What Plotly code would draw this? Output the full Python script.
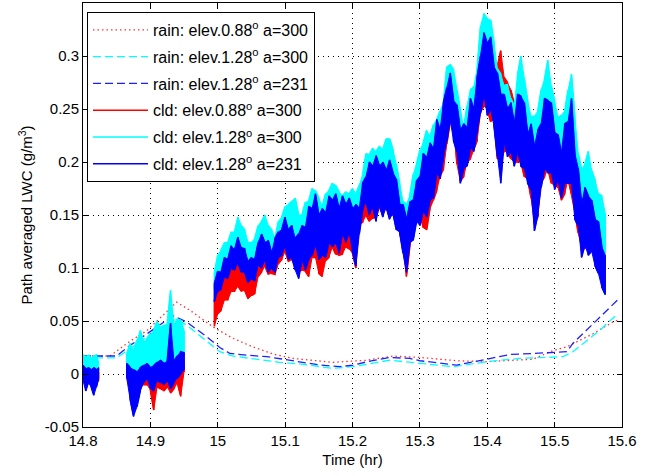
import plotly.graph_objects as go

FONT = "Liberation Sans, Arial, Helvetica, sans-serif"

# ---- rain-path estimates (smooth curves) ----
RAIN_T_RED = [14.800, 14.840, 14.870, 14.895, 14.939, 14.959, 14.993, 15.023, 15.052, 15.082,
              15.112, 15.171, 15.221, 15.260, 15.300, 15.355, 15.399, 15.468, 15.497, 15.518,
              15.557, 15.589, 15.597]
RAIN_V_RED = [0.017, 0.017, 0.031, 0.041, 0.0678, 0.060, 0.0444, 0.0335, 0.0256, 0.0188,
              0.0147, 0.011, 0.013, 0.0169, 0.0156, 0.0125, 0.0116, 0.014, 0.0219, 0.0256,
              0.038, 0.050, 0.051]

RAIN_T_CYAN = [14.800, 14.850, 14.870, 14.895, 14.939, 14.954, 15.003, 15.023, 15.092, 15.122,
               15.171, 15.201, 15.255, 15.300, 15.349, 15.399, 15.448, 15.512, 15.527, 15.567,
               15.594]
RAIN_V_CYAN = [0.0153, 0.0153, 0.024, 0.035, 0.052, 0.046, 0.021, 0.0169, 0.011, 0.0095,
               0.0053, 0.0069, 0.013, 0.010, 0.0069, 0.0116, 0.0147, 0.0163, 0.021, 0.0413,
               0.057]

RAIN_T_BLUE = [14.800, 14.850, 14.870, 14.895, 14.934, 14.954, 14.984, 15.003, 15.018, 15.043,
               15.073, 15.097, 15.122, 15.152, 15.181, 15.201, 15.226, 15.255, 15.285, 15.300,
               15.330, 15.355, 15.385, 15.404, 15.434, 15.468, 15.493, 15.518, 15.527, 15.552,
               15.589, 15.597]
RAIN_V_BLUE = [0.017, 0.017, 0.027, 0.038, 0.055, 0.049, 0.035, 0.025, 0.0194, 0.0178,
               0.0163, 0.014, 0.0116, 0.0084, 0.0069, 0.0084, 0.0122, 0.0156, 0.0147, 0.0125,
               0.0103, 0.0084, 0.0122, 0.0147, 0.0184, 0.0194, 0.0203, 0.021, 0.0288, 0.0444,
               0.0678, 0.072]

# ---- cloud-path estimates: per-interval min / max of the noisy record ----
# segment A
T_A = [14.800, 14.804, 14.808, 14.812, 14.816, 14.820, 14.823]
RED_LO_A = [-0.004, -0.010, -0.006, -0.010, -0.013, -0.008, -0.006]
RED_HI_A = [0.003, 0.002, 0.004, 0.003, 0.004, 0.003, 0.002]
CYAN_LO_A = [0.004, 0.002, 0.004, 0.002, 0.003, 0.002, 0.004]
CYAN_HI_A = [0.018, 0.016, 0.018, 0.015, 0.017, 0.018, 0.012]
BLUE_LO_A = [-0.006, -0.016, -0.008, -0.012, -0.020, -0.012, -0.004]
BLUE_HI_A = [0.008, 0.005, 0.006, 0.004, 0.006, 0.004, 0.006]

# segment B
T_B = [14.865, 14.870, 14.875, 14.880, 14.885, 14.890, 14.895, 14.900, 14.905, 14.910,
       14.915, 14.920, 14.925, 14.930, 14.935, 14.940, 14.945, 14.950]
RED_LO_B = [-0.004, -0.015, -0.025, -0.020, -0.012, -0.010, -0.010, -0.015, -0.034, -0.012,
            -0.014, -0.016, -0.012, -0.018, -0.014, -0.008, -0.021, 0.002]
RED_HI_B = [0.002, 0.000, -0.002, 0.000, 0.002, 0.003, 0.004, 0.002, 0.002, 0.004,
            0.005, 0.006, 0.006, 0.008, 0.008, 0.010, 0.010, 0.012]
CYAN_LO_B = [0.000, -0.004, -0.006, -0.002, 0.002, 0.004, 0.006, 0.004, 0.006, 0.008,
             0.010, 0.008, 0.010, 0.012, 0.010, 0.014, 0.018, 0.016]
CYAN_HI_B = [0.019, 0.029, 0.022, 0.032, 0.041, 0.030, 0.034, 0.038, 0.041, 0.050,
             0.044, 0.046, 0.047, 0.079, 0.046, 0.052, 0.051, 0.040]
BLUE_LO_B = [-0.004, -0.024, -0.040, -0.031, -0.016, -0.008, -0.004, -0.013, -0.016, -0.006,
             -0.008, -0.010, -0.006, -0.014, -0.008, -0.004, 0.000, 0.004]
BLUE_HI_B = [0.010, 0.006, 0.004, 0.002, 0.006, 0.008, 0.010, 0.006, 0.008, 0.011,
             0.013, 0.010, 0.012, 0.048, 0.012, 0.017, 0.021, 0.020]

# segment C
T_C = [14.995, 15.000, 15.005, 15.010, 15.015, 15.020, 15.025, 15.030, 15.035, 15.040,
       15.045, 15.050, 15.055, 15.060, 15.065, 15.070, 15.075, 15.080, 15.085, 15.090,
       15.095, 15.100, 15.105, 15.110, 15.115, 15.120, 15.125, 15.130, 15.135, 15.140,
       15.145, 15.150, 15.155, 15.160, 15.165, 15.170, 15.175, 15.180, 15.185, 15.190,
       15.195, 15.200, 15.205, 15.210, 15.215, 15.220, 15.225, 15.230, 15.235, 15.240,
       15.245, 15.250, 15.255, 15.260, 15.265, 15.270, 15.275, 15.280, 15.285, 15.290,
       15.295, 15.300, 15.305, 15.310, 15.315, 15.320, 15.325, 15.330, 15.335, 15.340,
       15.345, 15.350, 15.355, 15.360, 15.365, 15.370, 15.375, 15.380, 15.385, 15.390,
       15.395, 15.400, 15.405, 15.410, 15.415, 15.420, 15.425, 15.430, 15.435, 15.440,
       15.445, 15.450, 15.455, 15.460, 15.465, 15.470, 15.475, 15.480, 15.485, 15.490,
       15.495, 15.500, 15.505, 15.510, 15.515, 15.520, 15.525, 15.530, 15.535, 15.540,
       15.545, 15.550, 15.555, 15.560, 15.565, 15.570, 15.575]

BLUE_LO_C = [0.068, 0.078, 0.080, 0.092, 0.090, 0.100, 0.098, 0.105, 0.096, 0.096,
             0.086, 0.090, 0.088, 0.103, 0.100, 0.108, 0.096, 0.100, 0.096, 0.110,
             0.112, 0.121, 0.108, 0.110, 0.098, 0.090, 0.108, 0.098, 0.108, 0.112,
             0.122, 0.108, 0.112, 0.110, 0.124, 0.120, 0.124, 0.114, 0.133, 0.124,
             0.134, 0.116, 0.102, 0.132, 0.154, 0.163, 0.150, 0.158, 0.144, 0.160,
             0.148, 0.158, 0.146, 0.152, 0.136, 0.134, 0.114, 0.096, 0.124, 0.126,
             0.144, 0.140, 0.154, 0.148, 0.164, 0.166, 0.190, 0.184, 0.205, 0.220,
             0.240, 0.220, 0.210, 0.180, 0.194, 0.196, 0.214, 0.210, 0.230, 0.246,
             0.264, 0.244, 0.250, 0.234, 0.205, 0.180, 0.220, 0.205, 0.210, 0.196,
             0.210, 0.196, 0.194, 0.180, 0.174, 0.135, 0.150, 0.176, 0.194, 0.190,
             0.190, 0.174, 0.184, 0.166, 0.180, 0.180, 0.180, 0.146, 0.140, 0.110,
             0.122, 0.112, 0.116, 0.102, 0.095, 0.082, 0.075]
BLUE_HI_C = [0.085, 0.097, 0.096, 0.110, 0.108, 0.121, 0.117, 0.129, 0.119, 0.118,
             0.106, 0.110, 0.108, 0.124, 0.132, 0.124, 0.126, 0.114, 0.128, 0.134,
             0.136, 0.148, 0.136, 0.140, 0.128, 0.132, 0.140, 0.138, 0.158, 0.156,
             0.170, 0.150, 0.156, 0.152, 0.168, 0.164, 0.170, 0.156, 0.168, 0.160,
             0.166, 0.156, 0.160, 0.156, 0.180, 0.186, 0.200, 0.196, 0.206, 0.196,
             0.200, 0.192, 0.202, 0.190, 0.184, 0.160, 0.160, 0.146, 0.162, 0.164,
             0.182, 0.186, 0.208, 0.204, 0.218, 0.212, 0.240, 0.230, 0.256, 0.270,
             0.284, 0.258, 0.254, 0.230, 0.236, 0.232, 0.260, 0.250, 0.280, 0.300,
             0.322, 0.312, 0.318, 0.290, 0.284, 0.264, 0.264, 0.250, 0.256, 0.236,
             0.264, 0.262, 0.256, 0.226, 0.236, 0.214, 0.230, 0.236, 0.260, 0.258,
             0.256, 0.228, 0.226, 0.208, 0.236, 0.238, 0.260, 0.208, 0.194, 0.160,
             0.176, 0.168, 0.164, 0.146, 0.144, 0.120, 0.112]
CYAN_LO_C = [0.080, 0.090, 0.097, 0.102, 0.108, 0.112, 0.115, 0.118, 0.115, 0.108,
             0.102, 0.100, 0.104, 0.112, 0.118, 0.116, 0.112, 0.108, 0.110, 0.118,
             0.124, 0.128, 0.130, 0.125, 0.128, 0.120, 0.122, 0.125, 0.130, 0.138,
             0.140, 0.132, 0.128, 0.135, 0.140, 0.145, 0.142, 0.138, 0.145, 0.145,
             0.146, 0.140, 0.138, 0.145, 0.165, 0.170, 0.172, 0.172, 0.175, 0.178,
             0.176, 0.180, 0.178, 0.172, 0.160, 0.150, 0.140, 0.132, 0.140, 0.150,
             0.160, 0.168, 0.175, 0.180, 0.185, 0.192, 0.200, 0.205, 0.215, 0.238,
             0.248, 0.240, 0.225, 0.205, 0.205, 0.215, 0.225, 0.230, 0.240, 0.265,
             0.275, 0.270, 0.262, 0.255, 0.235, 0.225, 0.230, 0.225, 0.220, 0.215,
             0.220, 0.220, 0.210, 0.200, 0.195, 0.185, 0.185, 0.200, 0.210, 0.215,
             0.208, 0.200, 0.195, 0.192, 0.195, 0.205, 0.210, 0.195, 0.180, 0.160,
             0.165, 0.168, 0.158, 0.148, 0.138, 0.125, 0.108]
CYAN_HI_C = [0.095, 0.112, 0.117, 0.124, 0.124, 0.134, 0.134, 0.148, 0.140, 0.136,
             0.124, 0.124, 0.128, 0.140, 0.144, 0.150, 0.140, 0.136, 0.128, 0.144,
             0.148, 0.158, 0.160, 0.163, 0.166, 0.150, 0.150, 0.162, 0.163, 0.175,
             0.173, 0.166, 0.158, 0.170, 0.173, 0.180, 0.178, 0.172, 0.168, 0.172,
             0.170, 0.175, 0.170, 0.178, 0.188, 0.208, 0.207, 0.213, 0.210, 0.215,
             0.212, 0.222, 0.222, 0.212, 0.198, 0.180, 0.163, 0.160, 0.168, 0.188,
             0.198, 0.211, 0.218, 0.230, 0.224, 0.235, 0.240, 0.248, 0.256, 0.290,
             0.292, 0.287, 0.268, 0.248, 0.232, 0.253, 0.268, 0.271, 0.288, 0.328,
             0.340, 0.335, 0.334, 0.313, 0.288, 0.283, 0.272, 0.273, 0.260, 0.253,
             0.282, 0.300, 0.278, 0.258, 0.243, 0.243, 0.248, 0.268, 0.278, 0.296,
             0.272, 0.258, 0.242, 0.244, 0.248, 0.268, 0.283, 0.243, 0.208, 0.193,
             0.198, 0.210, 0.192, 0.183, 0.170, 0.168, 0.152]
RED_LO_C = [0.045, 0.057, 0.060, 0.070, 0.070, 0.078, 0.078, 0.083, 0.078, 0.079,
            0.071, 0.074, 0.076, 0.092, 0.096, 0.102, 0.094, 0.095, 0.094, 0.104,
            0.108, 0.116, 0.106, 0.108, 0.102, 0.097, 0.098, 0.097, 0.092, 0.110,
            0.110, 0.095, 0.092, 0.107, 0.110, 0.120, 0.113, 0.112, 0.113, 0.120,
            0.118, 0.114, 0.100, 0.142, 0.143, 0.150, 0.144, 0.147, 0.148, 0.157,
            0.150, 0.157, 0.148, 0.150, 0.148, 0.134, 0.118, 0.092, 0.120, 0.134,
            0.150, 0.152, 0.138, 0.136, 0.156, 0.164, 0.173, 0.187, 0.193, 0.217,
            0.238, 0.237, 0.198, 0.182, 0.186, 0.200, 0.203, 0.212, 0.220, 0.247,
            0.253, 0.250, 0.238, 0.240, 0.203, 0.202, 0.210, 0.210, 0.203, 0.200,
            0.200, 0.200, 0.186, 0.184, 0.166, 0.142, 0.148, 0.180, 0.186, 0.194,
            0.180, 0.178, 0.176, 0.164, 0.170, 0.184, 0.170, 0.152, 0.133, 0.120,
            0.118, 0.124, 0.116, 0.117, 0.108, 0.122, 0.130]
RED_HI_C = [0.070, 0.080, 0.088, 0.094, 0.098, 0.102, 0.108, 0.108, 0.104, 0.100,
            0.094, 0.092, 0.098, 0.106, 0.114, 0.118, 0.114, 0.110, 0.112, 0.120,
            0.126, 0.132, 0.130, 0.128, 0.126, 0.122, 0.130, 0.136, 0.145, 0.152,
            0.158, 0.148, 0.142, 0.150, 0.156, 0.160, 0.158, 0.152, 0.155, 0.156,
            0.155, 0.152, 0.148, 0.155, 0.170, 0.182, 0.190, 0.195, 0.192, 0.192,
            0.188, 0.192, 0.190, 0.186, 0.175, 0.160, 0.150, 0.142, 0.152, 0.162,
            0.172, 0.184, 0.198, 0.205, 0.208, 0.212, 0.230, 0.228, 0.245, 0.268,
            0.275, 0.258, 0.245, 0.230, 0.225, 0.232, 0.248, 0.252, 0.268, 0.298,
            0.312, 0.312, 0.308, 0.290, 0.290, 0.305, 0.280, 0.275, 0.268, 0.255,
            0.255, 0.262, 0.245, 0.225, 0.225, 0.215, 0.220, 0.235, 0.250, 0.258,
            0.245, 0.230, 0.215, 0.210, 0.225, 0.240, 0.250, 0.210, 0.188, 0.170,
            0.185, 0.190, 0.180, 0.165, 0.155, 0.150, 0.140]

X_TICKS = [14.8, 14.9, 15.0, 15.1, 15.2, 15.3, 15.4, 15.5, 15.6]
X_TICK_TEXT = ["14.8", "14.9", "15", "15.1", "15.2", "15.3", "15.4", "15.5", "15.6"]
Y_TICKS = [-0.05, 0, 0.05, 0.1, 0.15, 0.2, 0.25, 0.3]
Y_TICK_TEXT = ["-0.05", "0", "0.05", "0.1", "0.15", "0.2", "0.25", "0.3"]


def band_xy(segments):
    """Closed outline (max forward, min backward) for each segment, gaps between."""
    xs, ys = [], []
    for t, lo, hi in segments:
        if xs:
            xs.append(None)
            ys.append(None)
        xs += list(t) + list(t[::-1])
        ys += list(hi) + list(lo[::-1])
    return xs, ys


def trace_xy(segments):
    """Vertical min/max strokes, alternating direction, one path per segment."""
    xs, ys = [], []
    for t, lo, hi in segments:
        if xs:
            xs.append(None)
            ys.append(None)
        for i, (ti, a, b) in enumerate(zip(t, lo, hi)):
            xs += [ti, ti]
            ys += [a, b] if i % 2 == 0 else [b, a]
    return xs, ys


fig = go.Figure()

rain = [
    ("rain: elev.0.88<sup>o</sup> a=300", RAIN_T_RED, RAIN_V_RED, "#ff3030", "1.5px,3px"),
    ("rain: elev.1.28<sup>o</sup> a=300", RAIN_T_CYAN, RAIN_V_CYAN, "#00ffff", "8px,4px"),
    ("rain: elev.1.28<sup>o</sup> a=231", RAIN_T_BLUE, RAIN_V_BLUE, "#2020ff", "8px,4px"),
]
for name, t, v, col, dash in rain:
    fig.add_trace(go.Scatter(x=t, y=v, mode="lines", name=name, legendgroup=name,
                             line=dict(color=col, width=1.3, dash=dash)))

cld = [
    ("cld: elev.0.88<sup>o</sup> a=300", "#ff0000",
     [(T_A, RED_LO_A, RED_HI_A), (T_B, RED_LO_B, RED_HI_B), (T_C, RED_LO_C, RED_HI_C)]),
    ("cld: elev.1.28<sup>o</sup> a=300", "#00ffff",
     [(T_A, CYAN_LO_A, CYAN_HI_A), (T_B, CYAN_LO_B, CYAN_HI_B), (T_C, CYAN_LO_C, CYAN_HI_C)]),
    ("cld: elev.1.28<sup>o</sup> a=231", "#0000ff",
     [(T_A, BLUE_LO_A, BLUE_HI_A), (T_B, BLUE_LO_B, BLUE_HI_B), (T_C, BLUE_LO_C, BLUE_HI_C)]),
]
for name, col, segs in cld:
    bx, by = band_xy(segs)
    fig.add_trace(go.Scatter(x=bx, y=by, mode="lines", fill="toself", fillcolor=col,
                             line=dict(color=col, width=1), legendgroup=name,
                             showlegend=False, hoverinfo="skip"))
    zx, zy = trace_xy(segs)
    fig.add_trace(go.Scatter(x=zx, y=zy, mode="lines", name=name, legendgroup=name,
                             line=dict(color=col, width=1.6)))

axis_common = dict(
    showline=True, linecolor="#000000", linewidth=1, mirror="allticks",
    ticks="inside", ticklen=5, tickwidth=1, tickcolor="#000000",
    showgrid=True, gridcolor="#000000", gridwidth=1, griddash="1px,4px",
    zeroline=False, tickfont=dict(family=FONT, size=15, color="#000000"),
)

fig.update_xaxes(range=[14.8, 15.6], tickvals=X_TICKS, ticktext=X_TICK_TEXT,
                 title=dict(text="Time (hr)", font=dict(family=FONT, size=15, color="#000000"),
                            standoff=6),
                 **axis_common)
fig.update_yaxes(range=[-0.05, 0.35], tickvals=Y_TICKS, ticktext=Y_TICK_TEXT,
                 title=dict(text="Path averaged LWC (g/m<sup>3</sup>)",
                            font=dict(family=FONT, size=15, color="#000000"), standoff=8),
                 **axis_common)

fig.update_layout(
    width=656, height=476,
    margin=dict(l=83, r=34, t=3, b=49),
    paper_bgcolor="#ffffff", plot_bgcolor="#ffffff",
    showlegend=True,
    legend=dict(x=0.0074, y=0.979, xanchor="left", yanchor="top",
                bgcolor="#ffffff", bordercolor="#000000", borderwidth=1,
                font=dict(family=FONT, size=16, color="#000000"),
                tracegroupgap=3, traceorder="grouped", itemwidth=55),
)

fig.write_html("out.html")
